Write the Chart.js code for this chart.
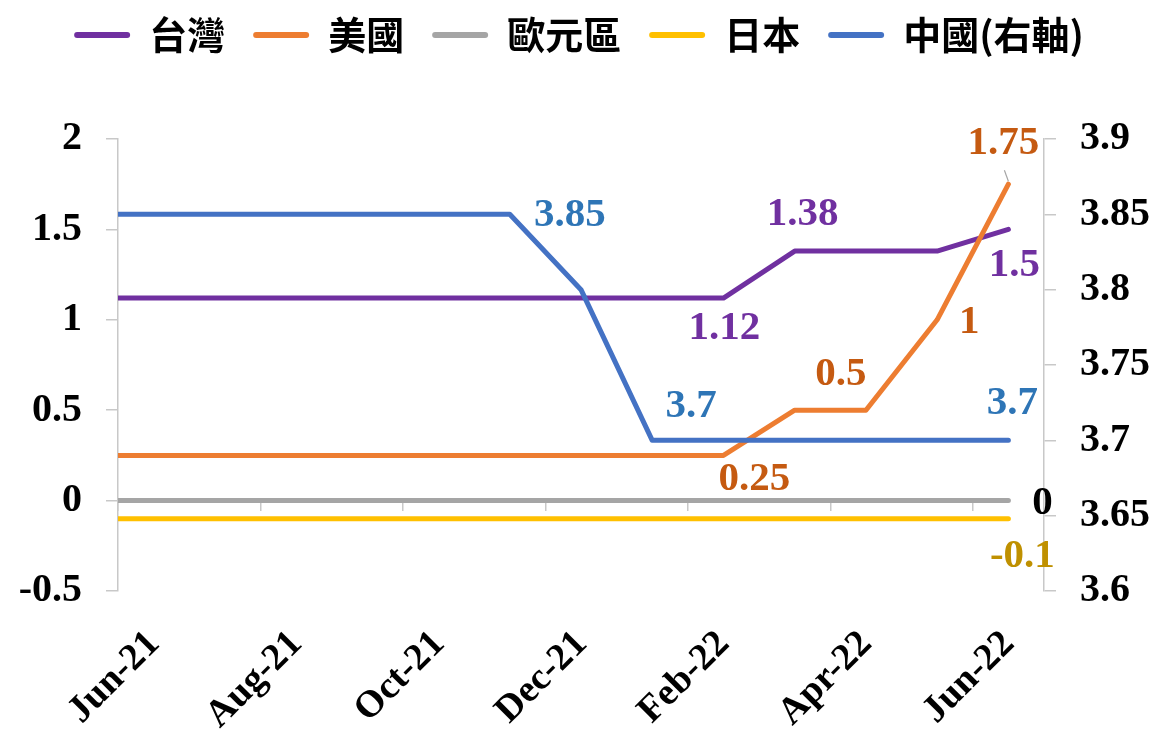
<!DOCTYPE html>
<html><head><meta charset="utf-8">
<script src="https://cdn.jsdelivr.net/npm/chart.js@4.4.1/dist/chart.umd.min.js"></script>
<style>html,body{margin:0;padding:0;background:#fff}</style>
</head><body>
<canvas id="c" width="1158" height="732"></canvas>
<script>
// ---- data ----
const months = ['May-21','Jun-21','Jul-21','Aug-21','Sep-21','Oct-21','Nov-21','Dec-21','Jan-22','Feb-22','Mar-22','Apr-22','May-22','Jun-22'];
const tickLabels = ['Jun-21','Aug-21','Oct-21','Dec-21','Feb-22','Apr-22','Jun-22'];
const seriesNames = ['台灣','美國','歐元區','日本','中國(右軸)'];
const taiwan = [1.12,1.12,1.12,1.12,1.12,1.12,1.12,1.12,1.12,1.12,1.38,1.38,1.38,1.5];
const usa    = [0.25,0.25,0.25,0.25,0.25,0.25,0.25,0.25,0.25,0.25,0.5,0.5,1,1.75];
const euro   = [0,0,0,0,0,0,0,0,0,0,0,0,0,0];
const japan  = [-0.1,-0.1,-0.1,-0.1,-0.1,-0.1,-0.1,-0.1,-0.1,-0.1,-0.1,-0.1,-0.1,-0.1];
const china  = [3.85,3.85,3.85,3.85,3.85,3.85,3.85,3.8,3.7,3.7,3.7,3.7,3.7,3.7];

// ---- style ----
const lineColors  = ['#7030A0','#ED7D31','#A5A5A5','#FFC000','#4472C4'];
const labelColors = ['#7030A0','#C55A11','#000000','#BF9000','#2E75B6'];
const AXIS = '#C8C8C8';
const PAD_TOP = -12;
const PLOT_TOP = 139;
const labelSpecs = [
  {ds:0, month:'Feb-22', dx:1,  dy:30},
  {ds:0, month:'Mar-22', dx:8,  dy:-37},
  {ds:0, month:'Jun-22', dx:6,  dy:36},
  {ds:1, month:'Feb-22', dx:31, dy:24},
  {ds:1, month:'Apr-22', dx:-25,dy:-36},
  {ds:1, month:'May-22', dx:32, dy:3},
  {ds:1, month:'Jun-22', dx:-5, dy:-41, leader:true},
  {ds:2, month:'Jun-22', dx:34, dy:3},
  {ds:3, month:'Jun-22', dx:14, dy:38},
  {ds:4, month:'Nov-21', dx:60, dy:1},
  {ds:4, month:'Jan-22', dx:39, dy:-34},
  {ds:4, month:'Jun-22', dx:4,  dy:-37}
];

// month offset from Jun-21 start, observations dated mid-month
const toPoints = vals => vals.map((v, i) => ({x: i - 0.5, y: v}));
const fmt = v => String(Number(Number(v).toFixed(2)));

const valueLabels = {
  id: 'valueLabels',
  afterDatasetsDraw(chart) {
    const ctx = chart.ctx;
    ctx.save();
    ctx.font = 'bold 41px "Liberation Serif"';
    ctx.textAlign = 'center';
    ctx.textBaseline = 'middle';
    labelSpecs.forEach(s => {
      const i = months.indexOf(s.month);
      const pt = chart.getDatasetMeta(s.ds).data[i];
      const v = chart.data.datasets[s.ds].data[i].y;
      ctx.fillStyle = labelColors[s.ds];
      ctx.fillText(fmt(v), pt.x + s.dx, pt.y + s.dy);
      if (s.leader) {
        ctx.strokeStyle = '#A6A6A6';
        ctx.lineWidth = 1.2;
        ctx.beginPath();
        ctx.moveTo(pt.x - 4, pt.y - 14);
        ctx.lineTo(pt.x, pt.y - 3);
        ctx.stroke();
      }
    });
    ctx.restore();
  }
};

const legendSpacer = {
  id: 'legendSpacer',
  beforeInit(chart) {
    const box = {
      position: 'top', weight: 1, fullSize: true, options: {},
      isHorizontal() { return true; },
      update(maxWidth) {
        this.width = maxWidth;
        const lh = chart.legend ? chart.legend.height : 0;
        this.height = Math.max(0, PLOT_TOP - PAD_TOP - lh);
      },
      draw() {}
    };
    Chart.layouts.addBox(chart, box);
  }
};

const axisFont = {family: '"Liberation Serif"', size: 40, weight: 'bold'};
const allSeries = [taiwan, usa, euro, japan, china];

new Chart(document.getElementById('c'), {
  type: 'line',
  data: {
    datasets: allSeries.map((vals, k) => ({
      label: seriesNames[k],
      data: toPoints(vals),
      borderColor: lineColors[k],
      backgroundColor: lineColors[k],
      borderWidth: 5,
      pointRadius: 0,
      tension: 0,
      borderCapStyle: 'round',
      borderJoinStyle: 'round',
      yAxisID: k === 4 ? 'y1' : 'y',
      order: 4 - k
    }))
  },
  options: {
    responsive: false,
    animation: false,
    devicePixelRatio: 1,
    layout: {padding: {top: PAD_TOP, left: 0, right: 0, bottom: 0}},
    plugins: {
      tooltip: {enabled: false},
      legend: {
        position: 'top',
        labels: {
          font: {family: '"Noto Sans CJK TC"', size: 38, weight: 'bold'},
          color: '#000',
          boxWidth: 56,
          boxHeight: 6,
          padding: 28,
          useBorderRadius: true,
          borderRadius: 3,
          sort: (a, b) => a.datasetIndex - b.datasetIndex,
          generateLabels(chart) {
            return Chart.defaults.plugins.legend.labels.generateLabels(chart).map(it => {
              it.lineWidth = 0;
              it.strokeStyle = it.fillStyle;
              return it;
            });
          }
        }
      }
    },
    scales: {
      x: {
        type: 'linear', position: 'bottom', min: 0, max: 13,
        grid: {display: false, drawTicks: false},
        border: {display: false},
        ticks: {
          stepSize: 2, includeBounds: false, autoSkip: false,
          minRotation: 45, maxRotation: 45,
          labelOffset: 36, padding: 31,
          font: {family: '"Liberation Serif"', size: 38, weight: 'bold'},
          color: '#000',
          callback: v => (v % 2 === 0 && tickLabels[v / 2] !== undefined) ? tickLabels[v / 2] : ''
        },
        afterFit(s) { s.height = 141; }
      },
      x2: {
        type: 'linear', axis: 'x', position: {y: 0}, min: 0, max: 13,
        grid: {drawOnChartArea: false, drawTicks: true, tickLength: 10, color: AXIS, lineWidth: 1.5},
        border: {display: false},
        ticks: {display: false, stepSize: 2, includeBounds: false}
      },
      y: {
        position: 'left', min: -0.5, max: 2,
        ticks: {stepSize: 0.5, font: axisFont, color: '#000', padding: 24, callback: v => fmt(v)},
        grid: {drawOnChartArea: false, drawTicks: true, tickLength: 12, color: AXIS, lineWidth: 1.5},
        border: {display: true, color: AXIS, width: 1.5},
        afterFit(s) { s.width = 118; }
      },
      y1: {
        position: 'right', min: 3.6, max: 3.9,
        ticks: {stepSize: 0.05, font: axisFont, color: '#000', padding: 24, callback: v => fmt(v)},
        grid: {drawOnChartArea: false, drawTicks: true, tickLength: 12, color: AXIS, lineWidth: 1.5},
        border: {display: true, color: AXIS, width: 1.5},
        afterFit(s) { s.width = 114; }
      }
    }
  },
  plugins: [legendSpacer, valueLabels]
});
</script>
</body></html>
